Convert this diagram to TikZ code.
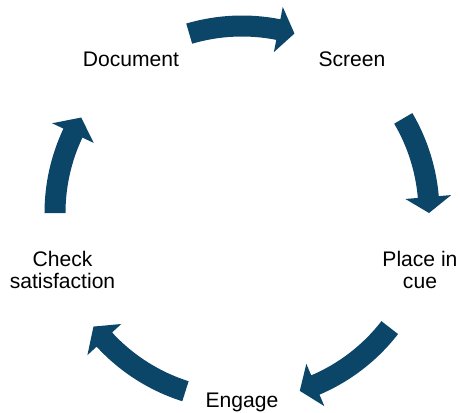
\documentclass[tikz,border=0pt]{standalone}
\usepackage{fontspec}
\setmainfont{Liberation Sans}
\definecolor{cycleblue}{RGB}{11,70,105}

\begin{document}
\begin{tikzpicture}[
    x=0.02cm, y=0.02cm,
    every node/.style={align=center, inner sep=0pt, anchor=base,
      font=\fontsize{12}{12.3}\selectfont},
    cyclearrow/.style={fill=cycleblue, draw=none}
  ]
    \useasboundingbox (-242,-200) rectangle (219,213);
    % Stages
    \node (document) at (-111,146.3) {Document};
    \node (screen)   at (110,146.3)  {Screen};
    \node (place)    at (178,-75.4)  {Place in\\cue};
    \node (engage)   at (0,-194.3)   {Engage};
    \node (check)    at (-179.5,-75.4) {Check\\satisfaction};
    % Arrows: tail / head base / tip angle
    \foreach \t/\b/\h in {106.4/78.8/73.7, 30.4/4.9/0, -37.8/-66.9/-72,
                          -107.6/-137.4/-142.6, 180/154.7/149.3}
      \fill[cyclearrow] (\t:197.5) arc[start angle=\t, end angle=\b, radius=197.5]
        -- (\b:210) -- (\h:187) -- (\b:164) -- (\b:176.5)
        arc[start angle=\b, end angle=\t, radius=176.5] -- cycle;
\end{tikzpicture}
\end{document}
